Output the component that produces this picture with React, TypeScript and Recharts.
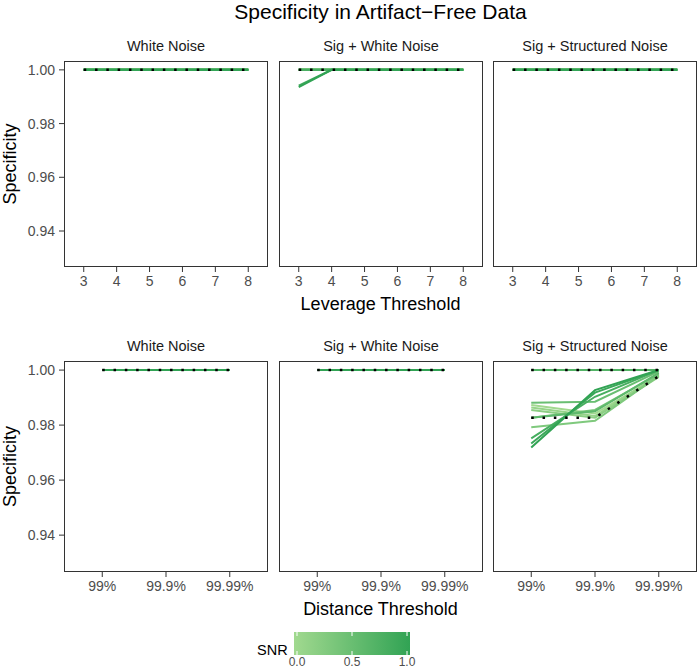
import React from 'react';
import { LineChart, Line, XAxis, YAxis } from 'recharts';

const FONT = '"Liberation Sans", Arial, Helvetica, sans-serif';

// ---------- data ----------
const snrLevels = [0, 0.1, 0.2, 0.3, 0.4, 0.5, 0.6, 0.7, 0.8, 0.9, 1.0];
const leverageThresholds = [3, 4, 5, 6, 7, 8];
const distanceThresholds = ['99%', '99.9%', '99.99%'];
const specificityTicks = [0.94, 0.96, 0.98, 1.0];
const snrLegendTicks = [0, 0.5, 1];
const panelTitles = ['White Noise', 'Sig + White Noise', 'Sig + Structured Noise'];

const levFlat = [1, 1, 1, 1, 1, 1];
const distFlat = [1, 1, 1];

// Leverage threshold, one row per SNR level
const levWhite = [levFlat, levFlat, levFlat, levFlat, levFlat, levFlat, levFlat, levFlat, levFlat, levFlat, levFlat];
const levSigWhite = [
  levFlat, levFlat, levFlat, levFlat, levFlat, levFlat, levFlat, levFlat, levFlat,
  [0.9941, 1, 1, 1, 1, 1],
  [0.9936, 1, 1, 1, 1, 1],
];
const levSigStruct = [levFlat, levFlat, levFlat, levFlat, levFlat, levFlat, levFlat, levFlat, levFlat, levFlat, levFlat];
const levReference = [levFlat];

// Distance threshold, one row per SNR level
const distWhite = [distFlat, distFlat, distFlat, distFlat, distFlat, distFlat, distFlat, distFlat, distFlat, distFlat, distFlat];
const distSigWhite = [distFlat, distFlat, distFlat, distFlat, distFlat, distFlat, distFlat, distFlat, distFlat, distFlat, distFlat];
const distSigStructFlat = [distFlat, distFlat, distFlat, distFlat, distFlat, distFlat, distFlat, distFlat, distFlat, distFlat, distFlat];
const distSigStruct = [
  [0.9873, 0.9842, 0.9978],
  [0.9864, 0.9833, 0.9982],
  [0.9855, 0.9827, 0.9975],
  [0.9792, 0.9816, 0.9980],
  [0.9827, 0.9855, 0.9985],
  [0.9881, 0.9885, 0.9995],
  [0.9827, 0.9850, 0.9990],
  [1.0, 1.0, 1.0],
  [0.9752, 0.9903, 1.0],
  [0.9733, 0.9918, 1.0],
  [0.9719, 0.9927, 1.0],
];
const distReferenceFlat = [distFlat];
const distReferenceStruct = [distFlat, [0.9827, 0.9827, 0.9978]];

// ---------- style ----------
const LOW = [161, 217, 143];
const HIGH = [49, 163, 84];
const snrColor = (s: number) => {
  const c = LOW.map((l, i) => Math.round(l + (HIGH[i] - l) * s));
  return `rgb(${c[0]},${c[1]},${c[2]})`;
};

const PANEL_W = 204;
const COL_LEFT = [64, 279, 493];
const ROW_TOP = [61, 361];
const ROW_H = [206, 211];
const Y_DOMAIN: [number, number] = [0.9266, 1.0033];

type PanelProps = {
  col: number;
  row: number;
  xs: number[];
  groups: number[][][];
  refs: number[][];
  xDomain: [number, number];
  xFormatter?: (v: number) => string;
};

function Panel({ col, row, xs, groups, refs, xDomain, xFormatter }: PanelProps) {
  const showY = col === 0;
  const yw = showY ? 64 : 0;
  const height = ROW_H[row];
  const rows = xs.map((x, i) => {
    const r: Record<string, number> = { x };
    groups.forEach((g, gi) => g.forEach((s, k) => { r[`g${gi}s${k}`] = s[i]; }));
    refs.forEach((s, k) => { r[`ref${k}`] = s[i]; });
    return r;
  });
  const lines: React.ReactNode[] = [];
  groups.forEach((g, gi) =>
    g.forEach((_, k) => {
      lines.push(
        <Line
          key={`g${gi}s${k}`}
          dataKey={`g${gi}s${k}`}
          type="linear"
          stroke={snrColor(snrLevels[k])}
          strokeWidth={2}
          dot={false}
          activeDot={false}
          isAnimationActive={false}
        />
      );
    })
  );
  refs.forEach((_, k) => {
    lines.push(
      <Line
        key={`ref${k}`}
        dataKey={`ref${k}`}
        type="linear"
        stroke="#000"
        strokeWidth={2.5}
        strokeDasharray="2.5 8.8"
        dot={false}
        activeDot={false}
        isAnimationActive={false}
      />
    );
  });
  return (
    <div style={{ position: 'absolute', left: COL_LEFT[col] - yw, top: ROW_TOP[row] }}>
      <LineChart
        width={yw + PANEL_W}
        height={height + 30}
        data={rows}
        margin={{ top: 0, right: 0, bottom: 0, left: 0 }}
      >
        <XAxis
          type="number"
          dataKey="x"
          domain={xDomain}
          ticks={xs}
          interval={0}
          allowDataOverflow
          tickFormatter={xFormatter}
          height={30}
          tickSize={5}
          tickMargin={4}
          axisLine={false}
          tickLine={{ stroke: '#333' }}
          tick={{ fill: '#4d4d4d', fontSize: 14, fontFamily: FONT }}
        />
        <YAxis
          type="number"
          domain={Y_DOMAIN}
          ticks={specificityTicks}
          interval={0}
          allowDataOverflow
          hide={!showY}
          width={yw}
          tickFormatter={(v: number) => v.toFixed(2)}
          tickSize={5}
          tickMargin={4}
          axisLine={false}
          tickLine={{ stroke: '#333' }}
          tick={{ fill: '#4d4d4d', fontSize: 14, fontFamily: FONT }}
        />
        {lines}
      </LineChart>
      <div
        style={{
          position: 'absolute',
          left: yw,
          top: 0,
          width: PANEL_W,
          height,
          border: '1px solid #333',
          boxSizing: 'border-box',
          pointerEvents: 'none',
        }}
      />
    </div>
  );
}

const distIdx = distanceThresholds.map((_, i) => i);
const distFmt = (v: number) => distanceThresholds[v] ?? '';

export default function App() {
  const centerX = COL_LEFT[0] + (COL_LEFT[2] + PANEL_W - COL_LEFT[0]) / 2;
  return (
    <div style={{ position: 'absolute', left: 0, top: 0, width: 698, height: 670, background: '#fff', fontFamily: FONT }}>
      <Panel col={0} row={0} xs={leverageThresholds} groups={[levWhite]} refs={levReference} xDomain={[2.4, 8.6]} />
      <Panel col={1} row={0} xs={leverageThresholds} groups={[levSigWhite]} refs={levReference} xDomain={[2.4, 8.6]} />
      <Panel col={2} row={0} xs={leverageThresholds} groups={[levSigStruct]} refs={levReference} xDomain={[2.4, 8.6]} />
      <Panel col={0} row={1} xs={distIdx} groups={[distWhite]} refs={distReferenceFlat} xDomain={[-0.6, 2.6]} xFormatter={distFmt} />
      <Panel col={1} row={1} xs={distIdx} groups={[distSigWhite]} refs={distReferenceFlat} xDomain={[-0.6, 2.6]} xFormatter={distFmt} />
      <Panel col={2} row={1} xs={distIdx} groups={[distSigStructFlat, distSigStruct]} refs={distReferenceStruct} xDomain={[-0.6, 2.6]} xFormatter={distFmt} />

      <svg width={698} height={670} style={{ position: 'absolute', left: 0, top: 0, pointerEvents: 'none' }}>
        <defs>
          <linearGradient id="snrGrad" x1="0" x2="1" y1="0" y2="0">
            <stop offset="0%" stopColor={snrColor(0)} />
            <stop offset="100%" stopColor={snrColor(1)} />
          </linearGradient>
        </defs>
        <text x={centerX} y={19} textAnchor="middle" fontSize={21} fill="#000" fontFamily={FONT}>
          Specificity in Artifact−Free Data
        </text>
        {ROW_TOP.map((top, r) =>
          panelTitles.map((t, c) => (
            <text key={`${r}-${c}`} x={COL_LEFT[c] + PANEL_W / 2} y={top - 10} textAnchor="middle" fontSize={14.5} fill="#1a1a1a" fontFamily={FONT}>
              {t}
            </text>
          ))
        )}
        {ROW_TOP.map((top, r) => {
          const cy = top + ROW_H[r] / 2;
          return (
            <text key={`yl${r}`} x={16} y={cy} transform={`rotate(-90 16 ${cy})`} textAnchor="middle" fontSize={18} fill="#000" fontFamily={FONT}>
              Specificity
            </text>
          );
        })}
        <text x={centerX} y={310} textAnchor="middle" fontSize={18} fill="#000" fontFamily={FONT}>
          Leverage Threshold
        </text>
        <text x={centerX} y={615} textAnchor="middle" fontSize={18} fill="#000" fontFamily={FONT}>
          Distance Threshold
        </text>
        {/* colour bar legend */}
        <text x={257} y={655} fontSize={14.5} fill="#000" fontFamily={FONT}>SNR</text>
        <rect x={294} y={632} width={116} height={23} fill="url(#snrGrad)" />
        {snrLegendTicks.map((v) => {
          const x = 297 + v * 110;
          return (
            <g key={v}>
              <line x1={x} x2={x} y1={632} y2={636} stroke="#fff" strokeWidth={1} />
              <line x1={x} x2={x} y1={651} y2={655} stroke="#fff" strokeWidth={1} />
              <text x={x} y={666} textAnchor="middle" fontSize={12} fill="#4d4d4d" fontFamily={FONT}>
                {v.toFixed(1)}
              </text>
            </g>
          );
        })}
      </svg>
    </div>
  );
}
